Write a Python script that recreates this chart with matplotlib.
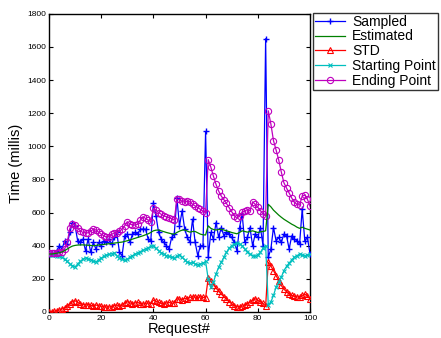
import matplotlib
matplotlib.use("Agg")
import matplotlib.pyplot as plt
import numpy as np

plt.rcParams['font.family'] = ['Liberation Sans', 'DejaVu Sans']

requests = list(range(101))

sampled = [350,355,350,370,400,380,430,410,480,540,
           520,430,420,440,370,440,360,420,380,420,
           400,430,420,440,410,450,480,360,340,460,
           470,420,470,480,470,500,500,500,440,430,
           660,580,480,440,420,400,380,450,470,690,
           520,610,500,450,420,560,420,340,400,400,
           1090,330,480,440,540,450,510,460,480,470,
           450,420,370,510,590,420,450,510,400,470,
           450,510,400,1650,330,380,510,430,450,420,
           470,460,380,460,440,430,410,620,430,450,350]

estimated = [350,350,352,355,358,362,370,380,390,398,
             402,404,405,405,404,403,402,400,402,404,
             406,408,410,412,414,416,418,420,422,426,
             430,435,440,445,450,455,460,466,472,480,
             490,494,495,490,485,480,476,472,470,480,
             488,494,495,488,482,486,486,478,470,466,
             465,520,505,498,495,498,500,495,490,485,
             480,476,472,480,490,486,482,486,490,485,
             480,484,486,490,650,635,615,600,585,572,
             560,550,540,530,522,512,505,512,505,500,495]

std = [0,2,5,8,12,18,25,35,50,62,
       68,58,50,45,42,45,40,38,42,38,
       35,32,30,30,32,38,42,36,40,55,
       62,55,50,55,58,50,48,52,55,50,
       72,65,58,52,48,55,58,52,55,80,
       78,75,82,80,88,92,90,88,92,88,
       85,205,185,165,145,125,108,92,78,62,
       50,38,32,30,35,42,50,58,72,80,
       70,62,52,35,300,278,250,220,190,160,
       138,122,108,100,95,92,88,100,108,95,80]

starting = [345,345,342,340,338,330,318,305,290,280,
            272,290,305,318,328,322,315,308,302,315,
            325,335,342,348,352,356,340,325,318,312,
            318,330,340,350,356,365,372,380,388,396,
            400,385,370,358,350,340,335,330,325,335,
            345,330,315,300,295,300,290,285,290,295,
            305,200,150,180,230,270,300,330,360,385,
            400,410,415,412,400,380,365,350,340,335,
            345,360,385,400,45,60,100,150,180,210,
            250,275,295,315,330,340,350,345,338,342,348]

ending = [355,355,355,358,360,365,380,420,505,530,
          525,505,490,480,478,478,488,500,495,482,
          470,460,452,455,468,478,478,488,500,520,
          545,532,525,525,530,555,575,565,555,545,
          625,615,600,590,580,575,570,562,555,680,
          680,668,662,670,665,650,640,630,620,608,
          600,920,875,820,770,730,700,678,655,630,
          605,582,566,580,602,610,618,612,665,650,
          632,612,592,580,1215,1135,1035,978,918,845,
          780,748,718,688,662,650,645,700,706,680,640]

xticks = [0, 20, 40, 60, 80, 100]
yticks = [0, 200, 400, 600, 800, 1000, 1200, 1400, 1600, 1800]

fig = plt.figure(figsize=(4.41, 3.38), dpi=100)
ax = fig.add_axes([0.111, 0.077, 0.592, 0.882])

ax.plot(requests, sampled, color='#0000ff', marker='+', markersize=5,
        markeredgewidth=1.0, linewidth=0.9, label='Sampled', zorder=3)
ax.plot(requests, estimated, color='#008000', linewidth=0.9,
        label='Estimated', zorder=4)
ax.plot(requests, std, color='#ff0000', marker='^', markersize=4,
        markerfacecolor='none', markeredgewidth=0.8, linewidth=0.9,
        label='STD', zorder=3)
ax.plot(requests, starting, color='#00bfbf', marker='x', markersize=3,
        markeredgewidth=0.8, linewidth=0.9, label='Starting Point', zorder=3)
ax.plot(requests, ending, color='#bf00bf', marker='o', markersize=4.5,
        markerfacecolor='none', markeredgewidth=0.8, linewidth=0.9,
        label='Ending Point', zorder=3)

ax.set_xlim(0, 100)
ax.set_ylim(0, 1800)
ax.set_xticks(xticks)
ax.set_yticks(yticks)
ax.tick_params(direction='in', top=True, right=True, labelsize=6, length=3, pad=2)
for s in ax.spines.values():
    s.set_linewidth(1.0)
ax.set_xlabel('Request#', fontsize=10.5, labelpad=0)
ax.set_ylabel('Time (millis)', fontsize=10.5, labelpad=3)

leg = ax.legend(loc='upper left', bbox_to_anchor=(1.01, 1.004), fontsize=10,
                frameon=True, fancybox=False, edgecolor='black',
                borderpad=0.15, labelspacing=0.05, handlelength=2.2,
                handletextpad=0.5, borderaxespad=0.0)
leg.get_frame().set_linewidth(1.0)

fig.savefig('out.png', dpi=100)
